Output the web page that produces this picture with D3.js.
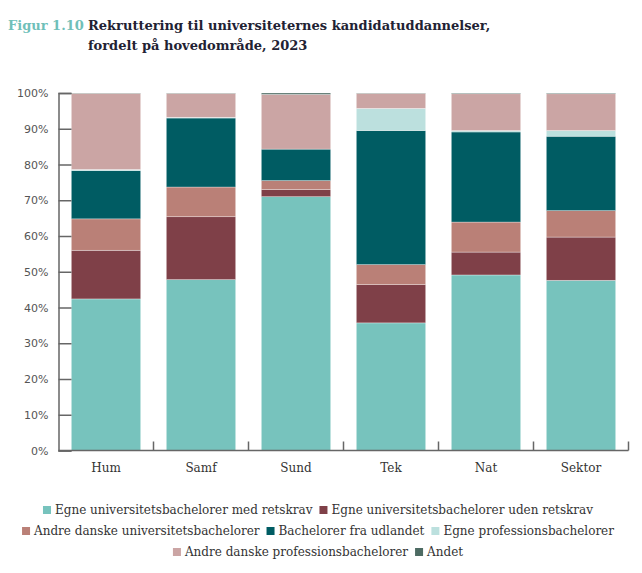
<!DOCTYPE html>
<html>
<head>
<meta charset="utf-8">
<script src="https://cdn.jsdelivr.net/npm/d3@7"></script>
<style type="text/css">
    body{ margin: 0; background: #fff }
    .title{ font-family: "DejaVu Serif", serif; font-weight: bold; font-size: 13px; fill: #222233 }
    .fig{ fill: #6fbfb9 }
    .ytick text{ font-family: "DejaVu Sans", sans-serif; font-size: 11px; fill: #555 }
    .xlab{ font-family: "DejaVu Serif", serif; font-size: 12px; fill: #333 }
    .leg{ font-family: "DejaVu Serif", serif; font-size: 12px; fill: #333 }
</style>
</head>
<body>
<script type="text/javascript">
var width = 642,
    height = 573;

var categories = ['Hum', 'Samf', 'Sund', 'Tek', 'Nat', 'Sektor'];

var seriesNames = [
    'Egne universitetsbachelorer med retskrav',
    'Egne universitetsbachelorer uden retskrav',
    'Andre danske universitetsbachelorer',
    'Bachelorer fra udlandet',
    'Egne professionsbachelorer',
    'Andre danske professionsbachelorer',
    'Andet'
];

var colors = ['#77c3bd', '#7f4048', '#ba8077', '#005c63', '#bce0de', '#cba5a4', '#4d6b63'];

// shares in percent, one array per series, in category order
var egneMed    = [42.4, 47.8, 71.0, 35.7, 49.1, 47.6];
var egneUden   = [13.6, 17.6,  2.0, 10.7,  6.4, 12.1];
var andreUni   = [ 8.8,  8.3,  2.5,  5.6,  8.4,  7.4];
var udlandet   = [13.5, 19.3,  8.8, 37.5, 25.2, 20.8];
var egneProf   = [ 0.3,  0.2,  0.0,  6.2,  0.4,  1.6];
var andreProf  = [21.3,  6.7, 15.3,  4.2, 10.3, 10.3];
var andet      = [ 0.1,  0.1,  0.4,  0.1,  0.2,  0.2];

var yTicks = [0, 10, 20, 30, 40, 50, 60, 70, 80, 90, 100];

var seriesValues = [egneMed, egneUden, andreUni, udlandet, egneProf, andreProf, andet];

var rows = categories.map(function(c, i){
    var r = { cat: c };
    seriesNames.forEach(function(s, j){ r[s] = seriesValues[j][i]; });
    return r;
});

var stacked = d3.stack().keys(seriesNames)(rows);

var plotLeft = 58.5, plotRight = 628.5, plotTop = 93, plotBottom = 450.5;

var x = d3.scaleBand()
    .domain(categories)
    .range([plotLeft, plotRight])
    .paddingInner(0.27)
    .paddingOuter(0.135);

var y = d3.scaleLinear()
    .domain([0, 100])
    .range([plotBottom, plotTop]);

var svg = d3.select('body')
    .append('svg')
        .attr('width', width)
        .attr('height', height);

// title
svg.append('text').attr('class', 'title fig').attr('x', 8).attr('y', 30).text('Figur 1.10');
svg.append('text').attr('class', 'title').attr('x', 88).attr('y', 30)
    .text('Rekruttering til universiteternes kandidatuddannelser,');
svg.append('text').attr('class', 'title').attr('x', 88).attr('y', 50)
    .text('fordelt på hovedområde, 2023');

// bars
svg.append('g').selectAll('g')
    .data(stacked)
    .enter()
    .append('g')
        .attr('fill', function(d, i){ return colors[i]; })
    .selectAll('rect')
    .data(function(d){ return d; })
    .enter()
    .append('rect')
        .attr('x', function(d){ return x(d.data.cat); })
        .attr('width', x.bandwidth())
        .attr('y', function(d){ return y(d[1]); })
        .attr('height', function(d){ return Math.max(0, y(d[0]) - y(d[1])); })
        .attr('stroke', '#fff')
        .attr('stroke-opacity', 0.45)
        .attr('stroke-width', 0.7);

// y axis
var yAxis = d3.axisLeft(y)
    .tickValues(yTicks)
    .tickSize(-13)
    .tickPadding(10)
    .tickFormat(function(d){ return d + '%'; });

var ya = svg.append('g')
    .attr('transform', 'translate(' + plotLeft + ',0)')
    .call(yAxis);
ya.select('.domain').attr('stroke', '#666').attr('stroke-width', 1.5);
ya.selectAll('.tick').attr('class', 'tick ytick');
ya.selectAll('.tick line').attr('stroke', '#666').attr('stroke-width', 1.5);

// x axis baseline with boundary ticks pointing up
var xa = svg.append('g');
xa.append('line')
    .attr('x1', plotLeft).attr('x2', plotRight)
    .attr('y1', plotBottom).attr('y2', plotBottom)
    .attr('stroke', '#666').attr('stroke-width', 1.5);
xa.selectAll('line.b')
    .data(categories)
    .enter()
    .append('line')
        .attr('class', 'b')
        .attr('x1', function(d){ return x(d) + x.bandwidth() + x.step() * 0.135; })
        .attr('x2', function(d){ return x(d) + x.bandwidth() + x.step() * 0.135; })
        .attr('y1', plotBottom).attr('y2', plotBottom - 9)
        .attr('stroke', '#666').attr('stroke-width', 1.5);
xa.selectAll('text')
    .data(categories)
    .enter()
    .append('text')
        .attr('class', 'xlab')
        .attr('x', function(d){ return x(d) + x.bandwidth() / 2; })
        .attr('y', 472)
        .attr('text-anchor', 'middle')
        .text(function(d){ return d; });

// legend, three centred rows
var legendRows = [[0, 1], [2, 3, 4], [5, 6]];
var legendY = [514, 535, 556];

legendRows.forEach(function(idx, r){
    var g = svg.append('g');
    var cx = 0;
    idx.forEach(function(k){
        var item = g.append('g').attr('transform', 'translate(' + cx + ',0)');
        item.append('rect')
            .attr('x', 0).attr('y', -8)
            .attr('width', 8).attr('height', 8)
            .attr('fill', colors[k]);
        var tx = item.append('text')
            .attr('class', 'leg')
            .attr('x', 12).attr('y', 0)
            .text(seriesNames[k]);
        cx += 12 + tx.node().getComputedTextLength() + 7;
    });
    cx -= 7;
    g.attr('transform', 'translate(' + ((width - cx) / 2 - 3) + ',' + legendY[r] + ')');
});
</script>
</body>
</html>
